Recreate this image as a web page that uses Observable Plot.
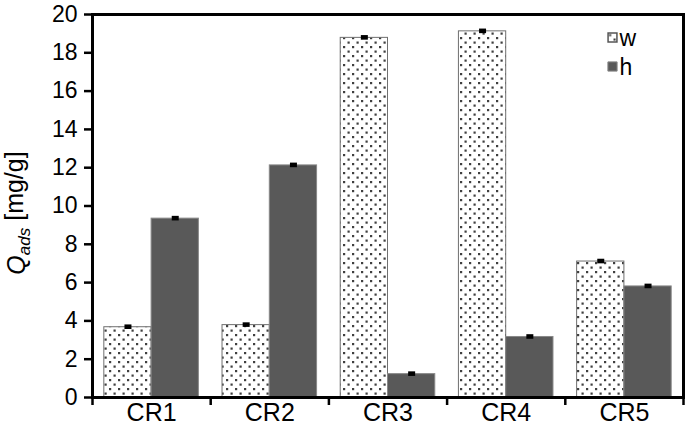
<!DOCTYPE html>
<html>
<head>
<meta charset="utf-8">
<script src="https://cdn.jsdelivr.net/npm/d3@7"></script>
<script src="https://cdn.jsdelivr.net/npm/@observablehq/plot@0.6"></script>
<style>
  body { margin: 0; background: #fff; }
  #chart svg { font-family: "Liberation Sans", Arial, sans-serif; display: block; }
</style>
</head>
<body>
<div id="chart"></div>
<script>
// ---- data ----
const categories = ["CR1", "CR2", "CR3", "CR4", "CR5"];
const series = ["w", "h"];
const wValues = [3.67, 3.78, 18.78, 19.12, 7.1];
const hValues = [9.34, 12.12, 1.22, 3.16, 5.8];
const wErrors = [0.12, 0.12, 0.12, 0.12, 0.12];
const hErrors = [0.12, 0.12, 0.12, 0.12, 0.12];
const yTicks = [0, 2, 4, 6, 8, 10, 12, 14, 16, 18, 20];

const rows = categories.flatMap((c, i) => [
  {category: c, index: i, series: "w", value: wValues[i], err: wErrors[i]},
  {category: c, index: i, series: "h", value: hValues[i], err: hErrors[i]}
]);

// grouped layout in x data units: category i occupies [i, i+1]
const groupPad = 0.1, barSpan = 0.4;
const bx1 = d => d.index + groupPad + series.indexOf(d.series) * barSpan;
const bx2 = d => bx1(d) + barSpan;
const bxc = d => (bx1(d) + bx2(d)) / 2;

const boundaries = d3.range(categories.length + 1);
const centers = categories.map((c, i) => i + 0.5);

const font = "Liberation Sans, Arial, sans-serif";

const plot = Plot.plot({
  width: 685,
  height: 441,
  marginTop: 14,
  marginRight: 2,
  marginBottom: 44,
  marginLeft: 92,
  style: {fontFamily: font, fontSize: "23px", color: "black", background: "white", overflow: "visible"},
  x: {domain: [0, categories.length]},
  y: {domain: [0, 20]},
  marks: [
    Plot.rect(rows.filter(d => d.series === "w"), {x1: bx1, x2: bx2, y1: () => 0, y2: "value", fill: "url(#dots)", stroke: "#6f6f6f", strokeWidth: 1}),
    Plot.rect(rows.filter(d => d.series === "h"), {x1: bx1, x2: bx2, y1: () => 0, y2: "value", fill: "#595959", stroke: "#888888", strokeWidth: 1}),
    Plot.ruleX(rows, {x: bxc, y1: d => d.value - d.err, y2: d => d.value + d.err, stroke: "black", strokeWidth: 7}),
    Plot.frame({stroke: "black", strokeWidth: 3}),
    Plot.axisY({ticks: yTicks, tickSize: 8, tickPadding: 7, strokeWidth: 2.5, fontSize: 23, label: null}),
    Plot.axisX({ticks: boundaries, tickSize: 8, tickFormat: () => "", strokeWidth: 2.5, label: null}),
    Plot.axisX({ticks: centers, tickSize: 0, tickPadding: 6, tickFormat: v => categories[Math.floor(v)], fontSize: 25, label: null}),
    // legend
    Plot.dot([series[0]], {frameAnchor: "top-right", dx: -71, dy: 23, symbol: "square", r: 5, fill: "url(#dots)", stroke: "#555", strokeWidth: 1.5}),
    Plot.dot([series[1]], {frameAnchor: "top-right", dx: -71, dy: 52, symbol: "square", r: 5.2, fill: "#595959", stroke: "#888", strokeWidth: 1}),
    Plot.text([series[0]], {frameAnchor: "top-right", lineAnchor: "middle", dx: -64, dy: 24, text: d => d, textAnchor: "start", fontSize: 23}),
    Plot.text([series[1]], {frameAnchor: "top-right", lineAnchor: "middle", dx: -64, dy: 53, text: d => d, textAnchor: "start", fontSize: 23})
  ]
});

const svg = d3.select(plot);
const defs = svg.insert("defs", ":first-child");
const pat = defs.append("pattern")
  .attr("id", "dots")
  .attr("patternUnits", "userSpaceOnUse")
  .attr("width", 9).attr("height", 9);
pat.append("rect").attr("width", 9).attr("height", 9).attr("fill", "white");
pat.append("rect").attr("x", 1).attr("y", 1).attr("width", 2.2).attr("height", 2.2).attr("fill", "#3f3f3f");
pat.append("rect").attr("x", 5.5).attr("y", 5.5).attr("width", 2.2).attr("height", 2.2).attr("fill", "#3f3f3f");

// y-axis title with italic subscript
const title = svg.append("text")
  .attr("transform", "translate(25,213) rotate(-90)")
  .attr("text-anchor", "middle")
  .attr("font-family", font)
  .attr("font-size", 25)
  .attr("fill", "black");
title.append("tspan").attr("font-style", "italic").text("Q");
title.append("tspan").attr("font-style", "italic").attr("font-size", 17).attr("dy", "0.3em").text("ads");
title.append("tspan").attr("dy", "-0.3em").text(" [mg/g]");

document.getElementById("chart").append(plot);
</script>
</body>
</html>
